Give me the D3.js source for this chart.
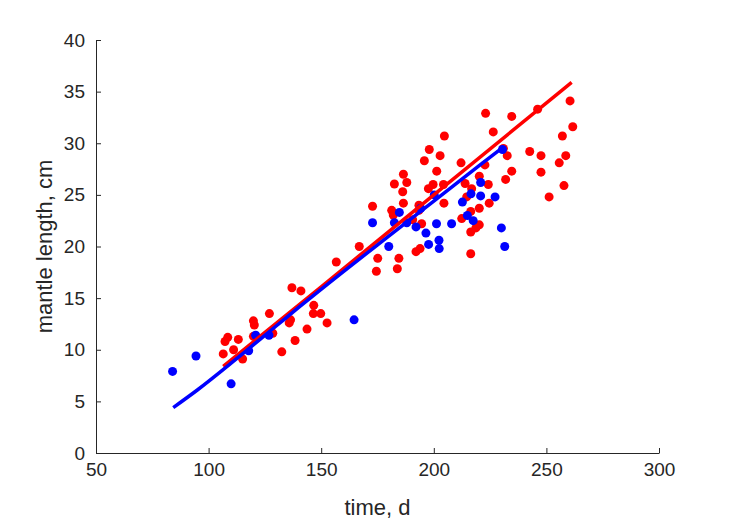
<!DOCTYPE html>
<html>
<head>
<meta charset="utf-8">
<script src="https://cdn.jsdelivr.net/npm/d3@7"></script>
<style>
  body { margin: 0; background: #fff; }
  text { font-family: "Liberation Sans", Arial, sans-serif; fill: #262626; }
</style>
</head>
<body>
<div id="chart"></div>
<script>
var svgWidth = 729;
var svgHeight = 521;

var margin = { top: 40, right: 70, bottom: 68, left: 96 };
var width = svgWidth - margin.left - margin.right;
var height = svgHeight - margin.top - margin.bottom;

// red group: time (d) and mantle length (cm)
var redTime = [106.5, 107.3, 108.5, 111.1, 113.2, 115.1, 119.9, 120.3, 119.9, 127.0,
  128.5, 132.5, 135.8, 136.4, 137.0, 138.4, 141.0, 143.7, 146.7, 146.5,
  149.8, 152.6, 156.7, 166.9, 172.8, 174.5, 175.1, 181.3, 182.0, 182.5,
  183.8, 184.5, 186.5, 188.0, 186.2, 186.5, 190.6, 192.1, 193.9, 193.4,
  193.4, 194.6, 195.8, 198.0, 197.6, 199.7, 204.3, 201.3, 202.8, 204.7,
  204.5, 212.1, 212.4, 213.9, 214.6, 216.8, 216.4, 216.4, 216.4, 218.7,
  220.2, 220.2, 220.2, 222.7, 223.0, 224.2, 224.6, 226.4, 230.9, 231.9,
  232.6, 234.6, 234.6, 242.6, 246.1, 247.6, 247.6, 251.2, 255.7, 257.1,
  257.8, 258.6, 260.5, 261.7];
var redLength = [9.6, 10.8, 11.2, 10.0, 11.0, 9.1, 12.8, 12.4, 11.3, 13.5,
  11.6, 9.8, 12.6, 12.9, 16.0, 10.9, 15.7, 12.0, 14.3, 13.5,
  13.5, 12.6, 18.5, 20.0, 23.9, 17.6, 18.85, 23.5, 23.05, 26.05,
  17.85, 18.85, 27.0, 26.2, 25.3, 24.2, 22.6, 19.5, 19.8, 24.0,
  23.5, 22.2, 28.3, 29.4, 25.6, 26.0, 26.0, 27.3, 28.8, 30.7,
  24.2, 28.1, 22.7, 26.1, 24.8, 25.6, 23.4, 21.4, 19.3, 21.8,
  22.1, 23.7, 26.8, 27.9, 32.9, 26.0, 24.2, 31.1, 29.5, 26.5,
  28.8, 32.6, 27.3, 29.2, 33.3, 28.8, 27.2, 24.8, 28.1, 30.7,
  25.9, 28.8, 34.1, 31.6];

// blue group
var blueTime = [84.0, 94.4, 110.0, 117.8, 120.9, 126.8, 164.6, 172.8, 180.0, 182.5,
  184.7, 188.0, 192.1, 194.2, 196.5, 197.7, 200.2, 201.2, 202.3, 202.4,
  207.9, 212.7, 214.9, 216.5, 217.5, 220.8, 220.8, 227.2, 230.0, 230.5,
  231.5];
var blueLength = [7.9, 9.4, 6.7, 9.9, 11.4, 11.4, 12.9, 22.3, 20.0, 22.3,
  23.3, 22.3, 21.9, 23.7, 21.3, 20.2, 25.0, 22.2, 20.6, 19.8,
  22.2, 24.3, 23.0, 25.1, 22.5, 24.9, 26.2, 24.8, 21.8, 29.4,
  20.0];

// fitted curves
var redFitTime = [106.5, 150, 200, 261.2];
var redFitLength = [8.4, 16.1, 25.0, 35.9];
var blueFitTime = [84.3, 95, 110, 120, 130, 140, 160, 180, 200, 220, 230.7];
var blueFitLength = [4.4, 6.1, 8.7, 10.5, 12.3, 14.1, 17.6, 21.0, 24.4, 27.8, 29.6];

var xTicks = [50, 100, 150, 200, 250, 300];
var yTicks = [0, 5, 10, 15, 20, 25, 30, 35, 40];

var svg = d3.select("#chart")
  .append("svg")
  .attr("width", svgWidth)
  .attr("height", svgHeight);

var chartGroup = svg.append("g")
  .attr("transform", `translate(${margin.left}, ${margin.top})`);

var xScale = d3.scaleLinear().domain([50, 300]).range([0, width]);
var yScale = d3.scaleLinear().domain([0, 40]).range([height, 0]);

// axes, ticks pointing inward like matlab
var xAxis = chartGroup.append("g")
  .attr("transform", `translate(0, ${height})`)
  .call(d3.axisBottom(xScale).tickValues(xTicks).tickSizeInner(-5).tickSizeOuter(0).tickPadding(10));

var yAxis = chartGroup.append("g")
  .call(d3.axisLeft(yScale).tickValues(yTicks).tickSizeInner(-5).tickSizeOuter(0).tickPadding(11));

[xAxis, yAxis].forEach(function (ax) {
  ax.select(".domain").attr("stroke", "#262626");
  ax.selectAll(".tick line").attr("stroke", "#262626");
  ax.selectAll(".tick text")
    .attr("font-size", 19)
    .attr("font-family", "Liberation Sans, Arial, sans-serif")
    .attr("fill", "#262626");
});

function pts(xs, ys) {
  return xs.map((x, i) => ({ x: x, y: ys[i] }));
}

var line = d3.line()
  .x(d => xScale(d.x))
  .y(d => yScale(d.y))
  .curve(d3.curveMonotoneX);

// scatter points
chartGroup.selectAll(".red-pt")
  .data(pts(redTime, redLength))
  .enter()
  .append("circle")
  .attr("cx", d => xScale(d.x))
  .attr("cy", d => yScale(d.y))
  .attr("r", 4.5)
  .attr("fill", "#ff0000");

chartGroup.selectAll(".blue-pt")
  .data(pts(blueTime, blueLength))
  .enter()
  .append("circle")
  .attr("cx", d => xScale(d.x))
  .attr("cy", d => yScale(d.y))
  .attr("r", 4.5)
  .attr("fill", "#0000ff");

// fitted lines
chartGroup.append("path")
  .datum(pts(redFitTime, redFitLength))
  .attr("d", line)
  .attr("fill", "none")
  .attr("stroke", "#ff0000")
  .attr("stroke-width", 3.5);

chartGroup.append("path")
  .datum(pts(blueFitTime, blueFitLength))
  .attr("d", line)
  .attr("fill", "none")
  .attr("stroke", "#0000ff")
  .attr("stroke-width", 3.5);

// axis labels
chartGroup.append("text")
  .attr("x", width / 2)
  .attr("y", height + 62)
  .attr("text-anchor", "middle")
  .attr("font-size", 22)
  .text("time, d");

chartGroup.append("text")
  .attr("transform", "rotate(-90)")
  .attr("x", -height / 2)
  .attr("y", -44)
  .attr("text-anchor", "middle")
  .attr("font-size", 22)
  .text("mantle length, cm");
</script>
</body>
</html>
